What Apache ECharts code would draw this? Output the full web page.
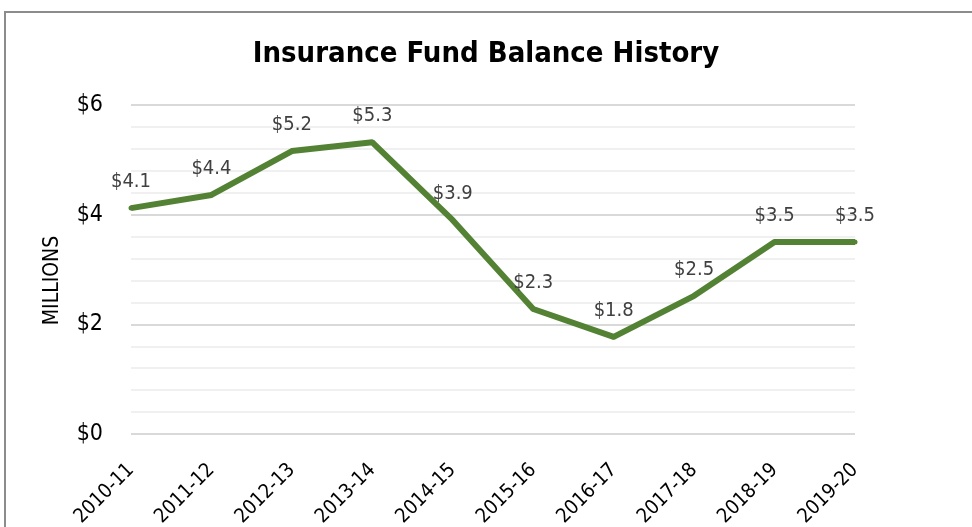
<!DOCTYPE html>
<html>
<head>
<meta charset="utf-8">
<script src="https://cdn.jsdelivr.net/npm/echarts@6/dist/echarts.min.js"></script>
<style>
  html, body { margin: 0; padding: 0; background: #fff; }
  #chart { width: 972px; height: 527px; }
</style>
</head>
<body>
<div id="chart"></div>
<script>
// fiscal years
const years = ["2010-11", "2011-12", "2012-13", "2013-14", "2014-15",
  "2015-16", "2016-17", "2017-18", "2018-19", "2019-20"];
// balance in millions of dollars
const balance = [4.12, 4.36, 5.16, 5.32, 3.9, 2.28, 1.77, 2.52, 3.5, 3.5];
const yTicks = [0, 2, 4, 6];

const font = '"DejaVu Sans Condensed", "Liberation Sans", sans-serif';

const chart = echarts.init(document.getElementById("chart"));

const option = {
  backgroundColor: "#fff",
  animation: false,
  title: {
    text: "Insurance Fund Balance History",
    left: "center",
    top: 35,
    textStyle: { fontFamily: font, fontWeight: "bold", fontSize: 29, color: "#000" }
  },
  graphic: [
    {
      type: "rect",
      shape: { x: 5, y: 12, width: 1000, height: 600 },
      style: { fill: "none", stroke: "#8c8c8c", lineWidth: 2 },
      silent: true
    }
  ],
  grid: { left: 131, right: 117, top: 105, bottom: 93, outerBoundsMode: "none" },
  xAxis: {
    type: "category",
    data: years,
    boundaryGap: false,
    axisLine: { show: false },
    axisTick: { show: false },
    axisLabel: {
      rotate: 45,
      margin: 33,
      fontFamily: font,
      fontSize: 20,
      color: "#000"
    }
  },
  yAxis: {
    type: "value",
    min: yTicks[0],
    max: yTicks[yTicks.length - 1],
    interval: 2,
    name: "MILLIONS",
    nameLocation: "middle",
    nameRotate: 90,
    nameGap: 68,
    nameTextStyle: { fontFamily: font, fontSize: 21, color: "#000", padding: [0, 22, 0, 0] },
    axisLabel: {
      formatter: v => "$" + v,
      margin: 28,
      fontFamily: font,
      fontSize: 23,
      color: "#000"
    },
    splitLine: { lineStyle: { color: "#d9d9d9", width: 2 } },
    minorTick: { show: false, splitNumber: 5 },
    minorSplitLine: { show: true, lineStyle: { color: "#f0f0f0", width: 2 } }
  },
  series: [
    {
      type: "line",
      data: balance,
      symbol: "circle",
      symbolSize: 5,
      showSymbol: true,
      itemStyle: { color: "#548235", borderWidth: 0 },
      lineStyle: { color: "#548235", width: 6 },
      label: {
        show: true,
        position: "top",
        distance: 14,
        formatter: p => "$" + p.value.toFixed(1),
        fontFamily: font,
        fontSize: 20,
        color: "#404040"
      }
    }
  ]
};

chart.setOption(option);
window.addEventListener("resize", () => chart.resize());
</script>
</body>
</html>
